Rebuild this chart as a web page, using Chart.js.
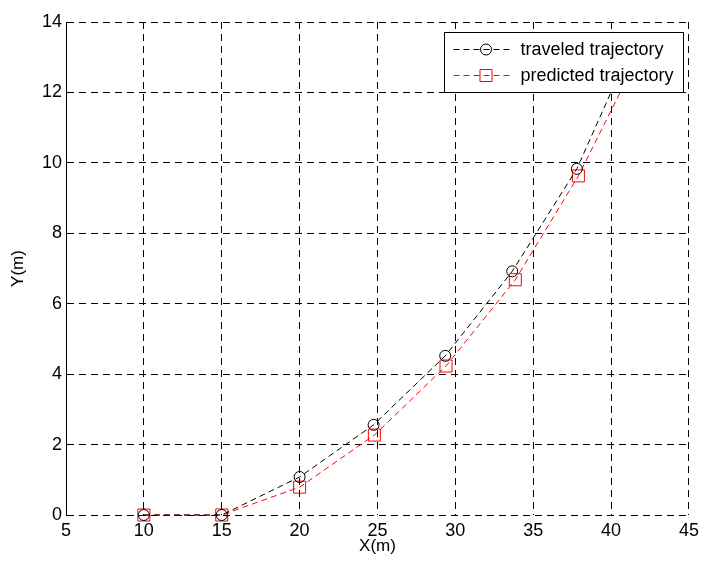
<!DOCTYPE html>
<html>
<head>
<meta charset="utf-8">
<script src="https://cdn.jsdelivr.net/npm/chart.js@4/dist/chart.umd.min.js"></script>
<style>
  body { margin: 0; background: #fff; }
  canvas { display: block; }
</style>
</head>
<body>
<canvas id="traj" width="704" height="563"></canvas>
<script>
// trajectory samples (metres)
var travX = [10, 15, 20, 24.75, 29.35, 33.65, 37.8, 41.4];
var travY = [0, 0, 1.08, 2.56, 4.52, 6.92, 9.83, 13.4];
var predX = [10, 15, 20, 24.8, 29.4, 33.85, 37.9, 41.6];
var predY = [0, 0, 0.79, 2.27, 4.23, 6.68, 9.63, 12.9];

var xTicks = [5, 10, 15, 20, 25, 30, 35, 40, 45];
var yTicks = [0, 2, 4, 6, 8, 10, 12, 14];

var FONT = 'Liberation Sans, Arial, Helvetica, sans-serif';

function toPoints(xs, ys) {
    return xs.map(function (x, i) { return { x: x, y: ys[i] }; });
}

// legend box in the upper right corner, line sample + marker + label
var boxLegend = {
    id: 'boxLegend',
    afterDraw: function (chart) {
        var ctx = chart.ctx;
        var area = chart.chartArea;
        var sets = chart.data.datasets;
        var right = area.right - 6, top = area.top + 10;
        var rowH = 26, pad = 10;
        ctx.save();
        ctx.font = '18px ' + FONT;
        var tw = 0;
        sets.forEach(function (ds) { tw = Math.max(tw, ctx.measureText(ds.label).width); });
        var w = Math.round(76 + tw + pad);
        var h = rowH * sets.length + 8;
        var left = Math.round(right - w) + 0.5;
        ctx.fillStyle = '#fff';
        ctx.fillRect(left, top + 0.5, w, h);
        ctx.strokeStyle = '#000';
        ctx.lineWidth = 1;
        ctx.strokeRect(left, top + 0.5, w, h);

        sets.forEach(function (ds, i) {
            var cy = Math.round(top + 17 + i * rowH) + 0.5;
            var x0 = left + 9, x1 = left + 67, cx = left + 41.5;
            ctx.strokeStyle = ds.borderColor;
            ctx.setLineDash(ds.borderDash);
            ctx.beginPath();
            ctx.moveTo(x0, cy);
            ctx.lineTo(x1, cy);
            ctx.stroke();
            ctx.setLineDash([]);
            ctx.fillStyle = 'rgba(0,0,0,0)';
            ctx.strokeStyle = ds.pointBorderColor;
            Chart.helpers.drawPoint(ctx, {
                pointStyle: ds.pointStyle,
                radius: ds.pointRadius,
                borderWidth: 1,
                rotation: 0
            }, cx, cy);
            ctx.fillStyle = '#000';
            ctx.textBaseline = 'middle';
            ctx.fillText(ds.label, left + 76, cy + 1);
        });
        ctx.restore();
    }
};

new Chart(document.getElementById('traj').getContext('2d'), {
    type: 'scatter',
    data: {
        datasets: [{
            label: 'traveled trajectory',
            data: toPoints(travX, travY),
            showLine: true,
            clip: false,
            borderColor: '#000',
            borderWidth: 1,
            borderDash: [6, 4],
            pointStyle: 'circle',
            pointRadius: 5.5,
            pointBorderColor: '#000',
            pointBackgroundColor: 'rgba(0,0,0,0)',
            pointBorderWidth: 1
        }, {
            label: 'predicted trajectory',
            data: toPoints(predX, predY),
            showLine: true,
            clip: false,
            borderColor: '#ff0000',
            borderWidth: 1,
            borderDash: [6, 4],
            pointStyle: 'rect',
            pointRadius: 8.5,
            pointBorderColor: '#ff0000',
            pointBackgroundColor: 'rgba(0,0,0,0)',
            pointBorderWidth: 1
        }]
    },
    options: {
        responsive: false,
        animation: false,
        layout: { padding: { top: 22, right: 13, left: 0, bottom: 0 } },
        plugins: {
            legend: { display: false },
            tooltip: { enabled: false }
        },
        scales: {
            x: {
                type: 'linear',
                min: xTicks[0],
                max: xTicks[xTicks.length - 1],
                afterBuildTicks: function (axis) {
                    axis.ticks = xTicks.map(function (v) { return { value: v }; });
                },
                afterFit: function (axis) { axis.height = 48; },
                ticks: {
                    autoSkip: false,
                    maxRotation: 0,
                    padding: 5,
                    color: '#000',
                    font: { family: FONT, size: 18 }
                },
                grid: { color: '#000', lineWidth: 1, drawTicks: false },
                border: { display: false, dash: [7, 5] },
                title: {
                    display: true,
                    text: 'X(m)',
                    color: '#000',
                    padding: { top: 0, bottom: 6 },
                    font: { family: FONT, size: 17 }
                }
            },
            y: {
                type: 'linear',
                min: yTicks[0],
                max: yTicks[yTicks.length - 1],
                afterBuildTicks: function (axis) {
                    axis.ticks = yTicks.map(function (v) { return { value: v }; });
                },
                afterFit: function (axis) { axis.width = 66; },
                ticks: {
                    padding: 4,
                    color: '#000',
                    font: { family: FONT, size: 18 }
                },
                grid: { color: '#000', lineWidth: 1, drawTicks: false },
                border: { display: true, color: '#000', width: 1, dash: [7, 5] },
                title: {
                    display: true,
                    text: 'Y(m)',
                    color: '#000',
                    padding: { top: 8, bottom: 0 },
                    font: { family: FONT, size: 17 }
                }
            }
        }
    },
    plugins: [boxLegend]
});
</script>
</body>
</html>
